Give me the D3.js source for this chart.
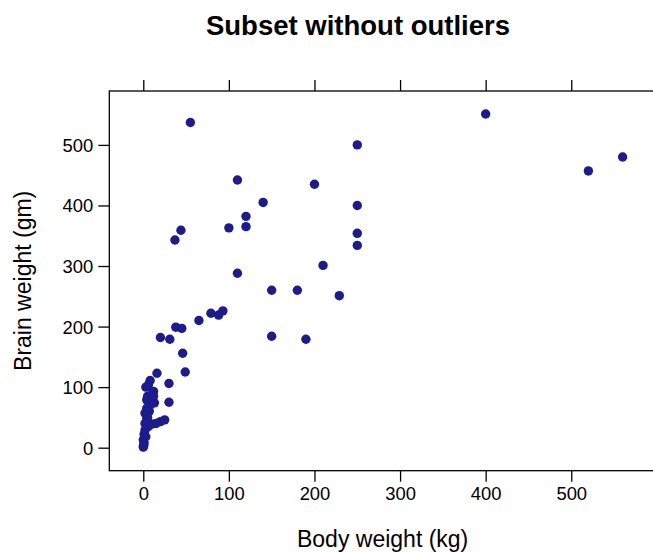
<!DOCTYPE html>
<html>
<head>
<meta charset="utf-8">
<script src="https://cdn.jsdelivr.net/npm/d3@7"></script>
<style>
  html, body { margin: 0; padding: 0; background: #ffffff; }
  svg { display: block; font-family: "Liberation Sans", Arial, Helvetica, sans-serif; }
</style>
</head>
<body>
<svg id="chart" width="653" height="552"></svg>
<script>
// Body weight (kg) and brain weight (gm), one entry per animal
const bodyWeight = [
  55, 110, 200, 140, 120, 100, 120, 44, 37, 110,
  400, 250, 520, 560, 250, 250, 250, 210, 229,
  150, 180, 93, 88, 79, 65, 38, 45, 20, 31, 150, 190,
  46, 49, 16, 30, 30, 25,
  20, 15, 10, 8, 6, 12, 4, 8, 2, 2, 0, 0,
  3, 5, 10, 7, 4, 6, 1, 3, 1, 0.5, 9, 11, 4, 5, 2, 0.2, 13, 12
];
const brainWeight = [
  537, 442, 435, 405, 382, 363, 365, 359, 343, 288,
  551, 500, 457, 480, 400, 354, 334, 301, 251,
  260, 260, 226, 219, 222, 210, 199, 197, 182, 179, 184, 179,
  156, 125, 123, 106, 75, 46,
  43, 40, 39, 111, 104, 93, 79, 70, 57, 29, 13, 1,
  100, 85, 80, 60, 48, 35, 22, 18, 8, 4, 75, 90, 65, 50, 40, 2, 74, 85
];

const xTicks = [0, 100, 200, 300, 400, 500];
const yTicks = [0, 100, 200, 300, 400, 500];

const titleText = "Subset without outliers";
const xLabel = "Body weight (kg)";
const yLabel = "Brain weight (gm)";

const points = bodyWeight.map((b, i) => ({ body: b, brain: brainWeight[i] }));

const panel = { left: 109.3, top: 91, right: 656, bottom: 470.7 };
const svg = d3.select("#chart");

const x = d3.scaleLinear().domain([-39.7, 599]).range([panel.left, panel.right]);
const y = d3.scaleLinear().domain([-38, 589]).range([panel.bottom, panel.top]);

const ink = "#000000";
const dotColor = "#1c1c8c";

// panel frame
svg.append("rect")
  .attr("x", panel.left).attr("y", panel.top)
  .attr("width", panel.right - panel.left).attr("height", panel.bottom - panel.top)
  .attr("fill", "none").attr("stroke", ink).attr("stroke-width", 1.3);

// bottom axis with labels
const xAxisBottom = d3.axisBottom(x).tickValues(xTicks).tickSize(11).tickPadding(5).tickFormat(d3.format("d"));
const gxb = svg.append("g").attr("transform", `translate(0,${panel.bottom})`).call(xAxisBottom);
// top axis, ticks only
const xAxisTop = d3.axisTop(x).tickValues(xTicks).tickSize(11).tickFormat("");
const gxt = svg.append("g").attr("transform", `translate(0,${panel.top})`).call(xAxisTop);
// left axis with labels
const yAxisLeft = d3.axisLeft(y).tickValues(yTicks).tickSize(11).tickPadding(5).tickFormat(d3.format("d"));
const gyl = svg.append("g").attr("transform", `translate(${panel.left},0)`).call(yAxisLeft);

[gxb, gxt, gyl].forEach(g => {
  g.select(".domain").remove();
  g.selectAll(".tick line").attr("stroke", ink).attr("stroke-width", 1.3);
  g.selectAll(".tick text")
    .attr("fill", ink)
    .style("font-family", "'Liberation Sans', Arial, sans-serif")
    .style("font-size", "18.4px");
});
gyl.selectAll(".tick text").attr("dy", "0.35em");

// points
svg.append("g")
  .selectAll("circle")
  .data(points)
  .join("circle")
  .attr("cx", d => x(d.body))
  .attr("cy", d => y(d.brain))
  .attr("r", 4.7)
  .attr("fill", dotColor);

// title
svg.append("text")
  .attr("x", 358).attr("y", 35)
  .attr("text-anchor", "middle")
  .style("font-size", "27.5px").style("font-weight", "bold")
  .attr("fill", ink)
  .text(titleText);

// x axis title
svg.append("text")
  .attr("x", (panel.left + panel.right) / 2).attr("y", 547)
  .attr("text-anchor", "middle")
  .style("font-size", "23px")
  .attr("fill", ink)
  .text(xLabel);

// y axis title
svg.append("text")
  .attr("transform", `translate(31,${(panel.top + panel.bottom) / 2}) rotate(-90)`)
  .attr("text-anchor", "middle")
  .style("font-size", "23px")
  .attr("fill", ink)
  .text(yLabel);
</script>
</body>
</html>
